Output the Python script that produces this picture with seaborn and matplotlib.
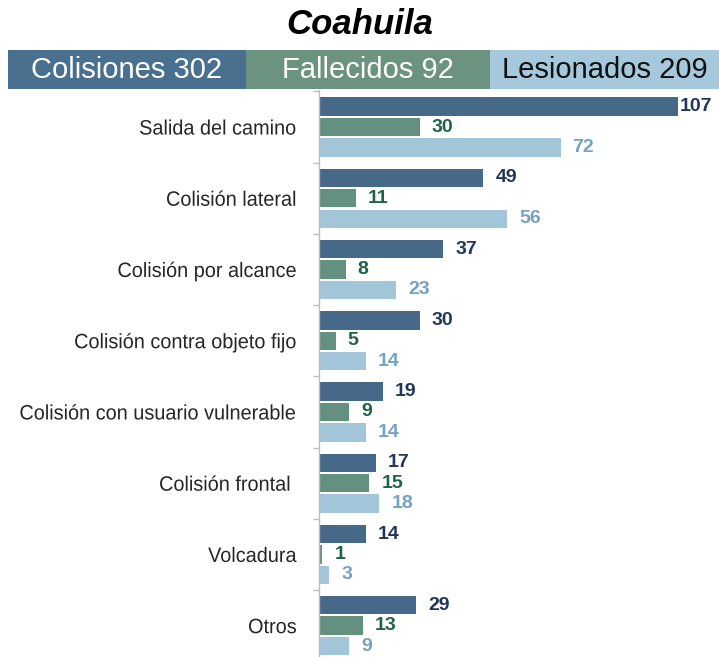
import matplotlib
matplotlib.use("Agg")
import matplotlib.pyplot as plt
from matplotlib.patches import Rectangle
from matplotlib.transforms import Affine2D
from matplotlib import patheffects
import seaborn as sns
import pandas as pd

# --- data -------------------------------------------------------------
categorias = [
    "Salida del camino",
    "Colisión lateral",
    "Colisión por alcance",
    "Colisión contra objeto fijo",
    "Colisión con usuario vulnerable",
    "Colisión frontal ",
    "Volcadura",
    "Otros",
]
colisiones = [107, 49, 37, 30, 19, 17, 14, 29]
fallecidos = [30, 11, 8, 5, 9, 15, 1, 13]
lesionados = [72, 56, 23, 14, 14, 18, 3, 9]
series = ["Colisiones", "Fallecidos", "Lesionados"]
titulo = "Coahuila"

# --- styling ----------------------------------------------------------
bar_colors = ["#46698a", "#64907f", "#a2c5da"]
band_colors = ["#4a7090", "#6b9380", "#a6c8dc"]
band_text = ["white", "white", "#111111"]
value_colors = ["#22355a", "#1d6446", "#74a2c2"]


class Condense(patheffects.AbstractPathEffect):
    """Horizontally squeeze text glyphs (narrow face look), anchored at an edge."""

    def __init__(self, sx=0.82, anchor="right"):
        super().__init__()
        self.sx = sx
        self.anchor = anchor

    def draw_path(self, renderer, gc, tpath, affine, rgbFace=None):
        ext = tpath.get_extents()
        if self.anchor == "right":
            xa = ext.x1
        elif self.anchor == "left":
            xa = ext.x0
        else:
            xa = (ext.x0 + ext.x1) / 2
        t = Affine2D().translate(-xa, 0).scale(self.sx, 1).translate(xa, 0)
        renderer.draw_path(gc, tpath, t + affine, rgbFace)


sns.set_theme(style="white")
plt.rcParams["font.family"] = ["Liberation Sans", "DejaVu Sans"]

df = pd.DataFrame({
    "Tipo": sum([[s] * len(categorias) for s in series], []),
    "Categoria": categorias * 3,
    "Valor": colisiones + fallecidos + lesionados,
})

W, H = 719, 657
fig = plt.figure(figsize=(W / 100, H / 100), dpi=100)

ax_left, ax_top = 319, 90
ax = fig.add_axes([ax_left / W, 0, 1 - ax_left / W, 1 - ax_top / H])
sns.barplot(
    data=df, y="Categoria", x="Valor", hue="Tipo", order=categorias,
    hue_order=series, palette=bar_colors, orient="h", width=0.86,
    gap=0.1, saturation=1, legend=False, ax=ax, errorbar=None, linewidth=0,
)
ax.set_xlim(0, 119.2)
ax.set_ylim(7.44, -0.52)
ax.set_xlabel("")
ax.set_ylabel("")
ax.set_xticks([])

for side in ["top", "right", "bottom"]:
    ax.spines[side].set_visible(False)
ax.spines["left"].set_color("#bdbdbd")
ax.spines["left"].set_linewidth(1.0)

ax.tick_params(axis="y", which="major", length=0, pad=16)
for lbl in ax.get_yticklabels():
    lbl.set_fontsize(15)
    lbl.set_color("#262626")
    lbl.set_path_effects([Condense(0.955, "right")])
ax.set_yticks([i - 0.5 for i in range(len(categorias))], minor=True)
ax.tick_params(axis="y", which="minor", length=4, width=1, color="#bdbdbd", left=True)

# value labels next to each bar
for container, col in zip(ax.containers, value_colors):
    for rect in container:
        v = rect.get_width()
        off = 12 if v < 100 else 2
        ax.annotate(f"{v:.0f}", (v, rect.get_y() + rect.get_height() / 2),
                    xytext=(off * 0.72, 0), textcoords="offset points",
                    ha="left", va="center", fontsize=14, fontweight="bold",
                    color=col, annotation_clip=False)

# title
fig.text(360 / W, 1 - 25 / H, titulo, ha="center", va="center",
         fontsize=25, fontweight="bold", fontstyle="italic", color="black")

# header band with totals
totals = [sum(colisiones), sum(fallecidos), sum(lesionados)]
edges = [8, 246, 490, 719]
y0, y1 = 50, 89
for i, (s, t) in enumerate(zip(series, totals)):
    x0, x1 = edges[i], edges[i + 1]
    fig.patches.append(Rectangle((x0 / W, 1 - y1 / H), (x1 - x0) / W, (y1 - y0) / H,
                                 transform=fig.transFigure, facecolor=band_colors[i],
                                 edgecolor="none"))
    fig.text((x0 + x1) / 2 / W, 1 - (y0 + y1) / 2 / H, f"{s} {t}",
             ha="center", va="center", fontsize=21, color=band_text[i])

fig.savefig("out.png", dpi=100)
